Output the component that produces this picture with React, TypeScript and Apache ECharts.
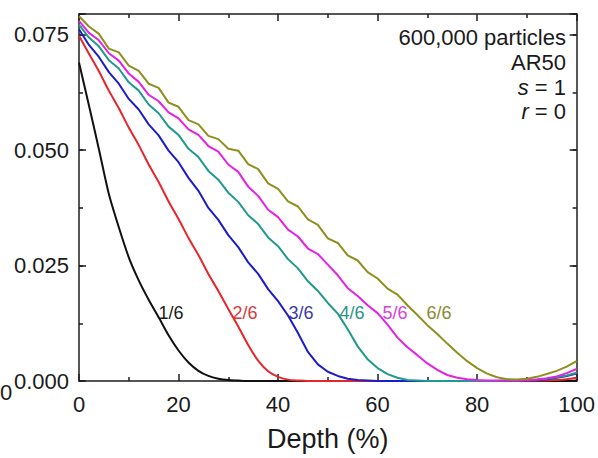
import React, { useEffect, useRef } from 'react';
import * as echarts from 'echarts';

const DEPTH = [0, 2, 4, 6, 8, 10, 12, 14, 16, 18, 20, 22, 24, 26, 28, 30, 32, 34, 36, 38, 40, 42, 44, 46, 48, 50, 52, 54, 56, 58, 60, 62, 64, 66, 68, 70, 72, 74, 76, 78, 80, 82, 84, 86, 88, 90, 92, 94, 96, 98, 100];

const S1 = [0.0690, 0.0597, 0.0502, 0.0405, 0.0333, 0.0268, 0.0218, 0.0176, 0.0138, 0.0099, 0.0066, 0.0040, 0.0022, 0.0011, 0.0005, 0.0002, 0.0001,
  0, 0, 0, 0, 0, 0, 0, 0, 0, 0, 0, 0, 0, 0, 0, 0, 0, 0, 0, 0, 0, 0, 0, 0, 0, 0, 0, 0, 0, 0, 0, 0, 0,
  0.0001, 0.0002];

const S2 = [0.0748, 0.0709, 0.0671, 0.0629, 0.0591, 0.0549, 0.0511, 0.0469, 0.0431, 0.0389, 0.0351, 0.0310, 0.0273, 0.0232, 0.0195, 0.0156, 0.0118, 0.0078, 0.0044, 0.0021, 0.0009, 0.0003, 0.0001,
  0, 0, 0, 0, 0, 0, 0, 0, 0, 0, 0, 0, 0, 0, 0, 0, 0, 0, 0, 0, 0, 0, 0,
  0.0001, 0.0001, 0.0002, 0.0004, 0.0007];

const S3 = [0.0762, 0.0728, 0.0702, 0.0669, 0.0644, 0.0611, 0.0588, 0.0556, 0.0532, 0.0499, 0.0474, 0.0440, 0.0412, 0.0375, 0.0349, 0.0316, 0.0290, 0.0257, 0.0232, 0.0199, 0.0173, 0.0142, 0.0104, 0.0063, 0.0036, 0.0020, 0.0011, 0.0005, 0.0002, 0.0001,
  0, 0, 0, 0, 0, 0, 0, 0, 0, 0, 0, 0, 0, 0,
  0.0001, 0.0001, 0.0002, 0.0004, 0.0007, 0.0011, 0.0016];

const S4 = [0.0772, 0.0744, 0.0725, 0.0695, 0.0677, 0.0647, 0.0629, 0.0599, 0.0580, 0.0551, 0.0533, 0.0503, 0.0485, 0.0455, 0.0436, 0.0408, 0.0388, 0.0359, 0.0340, 0.0311, 0.0292, 0.0264, 0.0244, 0.0216, 0.0195, 0.0169, 0.0146, 0.0112, 0.0075, 0.0047, 0.0028, 0.0015, 0.0007, 0.0002, 0.0001,
  0, 0, 0, 0, 0, 0, 0, 0,
  0.0001, 0.0001, 0.0002, 0.0003, 0.0005, 0.0008, 0.0012, 0.0018];

const S5 = [0.0780, 0.0754, 0.0738, 0.0710, 0.0694, 0.0666, 0.0648, 0.0620, 0.0606, 0.0582, 0.0569, 0.0545, 0.0533, 0.0509, 0.0497, 0.0469, 0.0453, 0.0421, 0.0401, 0.0371, 0.0355, 0.0328, 0.0313, 0.0287, 0.0275, 0.0252, 0.0229, 0.0201, 0.0184, 0.0164, 0.0147, 0.0122, 0.0094, 0.0073, 0.0056, 0.0038, 0.0024, 0.0013, 0.0007, 0.0004, 0.0002, 0.0001, 0.0001, 0.0001, 0.0001, 0.0002, 0.0003, 0.0006, 0.0010, 0.0017, 0.0026];

const S6 = [0.0790, 0.0768, 0.0752, 0.0720, 0.0712, 0.0683, 0.0672, 0.0644, 0.0635, 0.0603, 0.0594, 0.0565, 0.0556, 0.0531, 0.0524, 0.0503, 0.0499, 0.0470, 0.0459, 0.0428, 0.0416, 0.0389, 0.0378, 0.0350, 0.0338, 0.0309, 0.0299, 0.0272, 0.0261, 0.0236, 0.0222, 0.0200, 0.0187, 0.0164, 0.0143, 0.0121, 0.0102, 0.0081, 0.0061, 0.0043, 0.0028, 0.0016, 0.0008, 0.0004, 0.0003, 0.0005, 0.0009, 0.0015, 0.0022, 0.0031, 0.0043];

const SERIES_NAMES = ['1/6', '2/6', '3/6', '4/6', '5/6', '6/6'];
const SERIES_VALUES = [S1, S2, S3, S4, S5, S6];
const LINE_COLORS = ['#111111', '#e5262b', '#1c1cc8', '#1f9a8c', '#e521e5', '#8f8f1e'];
const LABEL_COLORS = ['#1a1a1a', '#d93a3a', '#3a3aa8', '#2b9488', '#d942d9', '#8a8a34'];
const LABEL_X = [171, 245, 301, 352, 395, 439];

const X_TICKS = [0, 20, 40, 60, 80, 100];
const Y_TICKS = [0, 0.025, 0.05, 0.075];
const ANNOTATION = ['600,000 particles', 'AR50', '{i|s} = 1', '{i|r} = 0'];
const ANNOTATION_Y = [37, 62, 87.5, 111.5];

export default function App() {
  const ref = useRef<HTMLDivElement>(null);
  useEffect(() => {
    const chart = echarts.init(ref.current!, null, { renderer: 'svg' });
    const FONT = '"Liberation Sans", Arial, sans-serif';
    const AX = '#1e1e1e';
    const line = { onZero: false, lineStyle: { color: AX, width: 1.5 } };
    const tick = (len: number) => ({ show: true, inside: true, length: len, lineStyle: { color: AX, width: 1.5 } });
    const yBase = { type: 'value', min: 0, max: 0.0795, splitLine: { show: false } };
    const xBase = { type: 'value', min: X_TICKS[0], max: X_TICKS[X_TICKS.length - 1], interval: 20, splitLine: { show: false } };

    const graphics: any[] = [];
    SERIES_NAMES.forEach((n, i) => {
      graphics.push({
        type: 'text', x: LABEL_X[i], y: 313, z: 10,
        style: { text: n, fill: LABEL_COLORS[i], font: `18px ${FONT}`, align: 'center', verticalAlign: 'middle' },
      });
    });
    ANNOTATION.forEach((t, i) => {
      graphics.push({
        type: 'text', x: 566, y: ANNOTATION_Y[i], z: 10,
        style: {
          text: t, fill: '#1a1a1a', font: `22px ${FONT}`, align: 'right', verticalAlign: 'middle',
          rich: { i: { fontStyle: 'italic', fontSize: 22, fontFamily: FONT, fill: '#1a1a1a' } },
        },
      });
    });
    graphics.push({
      type: 'text', x: 0, y: 392,
      style: { text: '0', fill: '#1a1a1a', font: `22px ${FONT}`, align: 'left', verticalAlign: 'middle' },
    });

    chart.setOption({
      animation: false,
      backgroundColor: '#ffffff',
      grid: { left: 79, right: 19.5, top: 14, bottom: 77, containLabel: false },
      xAxis: [
        {
          ...xBase, position: 'bottom',
          axisLine: line, axisTick: tick(7),
          minorTick: { show: true, splitNumber: 2, length: 4, lineStyle: { color: AX, width: 1.5 } },
          axisLabel: { fontSize: 22, color: '#1a1a1a', fontFamily: FONT, margin: 12 },
          name: 'Depth (%)', nameLocation: 'middle', nameGap: 44,
          nameTextStyle: { fontSize: 27, color: '#1a1a1a', fontFamily: FONT },
        },
        {
          ...xBase, position: 'top',
          axisLine: line, axisTick: tick(7),
          minorTick: { show: true, splitNumber: 2, length: 4, lineStyle: { color: AX, width: 1.5 } },
          axisLabel: { show: false },
        },
      ],
      yAxis: [
        {
          ...yBase, position: 'left', interval: 0.025,
          axisLine: line, axisTick: tick(7),
          axisLabel: {
            fontSize: 22, color: '#1a1a1a', fontFamily: FONT, margin: 10,
            formatter: (v: number) => (Y_TICKS.some((t) => Math.abs(t - v) < 1e-9) ? v.toFixed(3) : ''),
          },
        },
        {
          ...yBase, position: 'left', interval: 0.0125,
          axisLine: { show: false, onZero: false }, axisTick: tick(4), axisLabel: { show: false },
        },
        {
          ...yBase, position: 'right', interval: 0.025,
          axisLine: line, axisTick: tick(7), axisLabel: { show: false },
        },
        {
          ...yBase, position: 'right', interval: 0.0125,
          axisLine: { show: false, onZero: false }, axisTick: tick(4), axisLabel: { show: false },
        },
      ],
      series: SERIES_VALUES.map((vals, i) => ({
        name: SERIES_NAMES[i],
        type: 'line',
        xAxisIndex: 0,
        yAxisIndex: 0,
        data: DEPTH.map((d, j) => [d, vals[j]]),
        showSymbol: false,
        symbol: 'none',
        smooth: i < 2 ? 0.25 : false,
        lineStyle: { color: LINE_COLORS[i], width: 2 },
        z: 2 + i,
      })),
      graphic: graphics,
    });
    return () => chart.dispose();
  }, []);
  return <div ref={ref} style={{ position: 'absolute', left: 0, top: 0, width: 598, height: 458 }} />;
}
